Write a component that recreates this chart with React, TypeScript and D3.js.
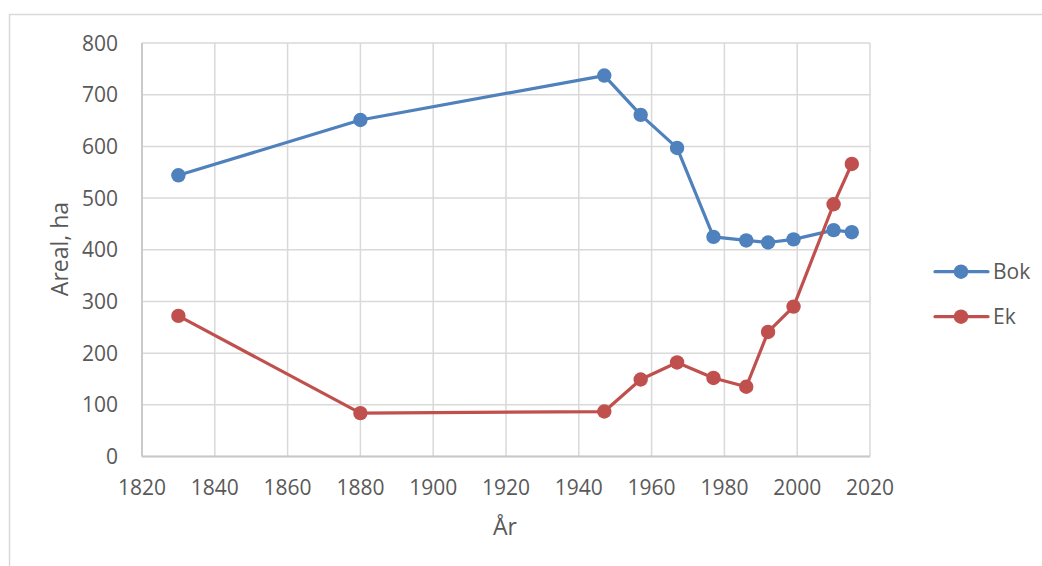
import React from "react";
import * as d3 from "d3";

const years = [1830, 1880, 1947, 1957, 1967, 1977, 1986, 1992, 1999, 2010, 2015];
const bokValues = [544, 651, 737, 661, 597, 425, 418, 414, 420, 438, 434];
const ekValues = [272, 84, 87, 149, 182, 152, 135, 241, 290, 488, 566];
const seriesNames = ["Bok", "Ek"];
const seriesColors = ["#4f81bd", "#c0504d"];
const xTicks = [1820, 1840, 1860, 1880, 1900, 1920, 1940, 1960, 1980, 2000, 2020];
const yTicks = [0, 100, 200, 300, 400, 500, 600, 700, 800];
const yTitle = "Areal, ha";
const xTitle = "År";

const W = 1042;
const H = 566;
const FONT = "'Open Sans', sans-serif";
const TEXT = "#595959";

export default function App() {
  const x = d3.scaleLinear().domain([1820, 2020]).range([142, 870]);
  const y = d3.scaleLinear().domain([0, 800]).range([456.5, 43]);
  const allSeries = [bokValues, ekValues];
  const line = d3
    .line<number>()
    .x((_, i) => x(years[i]))
    .y((d) => y(d));

  return (
    <svg
      width={W}
      height={H}
      style={{ position: "absolute", left: 0, top: 0, display: "block", background: "#fff" }}
    >
      <rect x={9.5} y={14.5} width={W + 20} height={H + 20} fill="#fff" stroke="#d9d9d9" strokeWidth={1.5} />
      {/* gridlines */}
      {yTicks.map((t) => (
        <line key={"gy" + t} x1={x(1820)} x2={x(2020)} y1={y(t)} y2={y(t)} stroke="#d9d9d9" strokeWidth={1.5} />
      ))}
      {xTicks.map((t) => (
        <line key={"gx" + t} x1={x(t)} x2={x(t)} y1={y(0)} y2={y(800)} stroke="#d9d9d9" strokeWidth={1.5} />
      ))}
      {/* axes */}
      <line x1={x(1820)} x2={x(2020)} y1={y(0)} y2={y(0)} stroke="#c8c8c8" strokeWidth={1.8} />
      <line x1={x(1820)} x2={x(1820)} y1={y(0)} y2={y(800)} stroke="#c8c8c8" strokeWidth={1.8} />
      {/* tick labels */}
      {yTicks.map((t) => (
        <text
          key={"ly" + t}
          x={118}
          y={y(t)}
          dy="0.36em"
          textAnchor="end"
          fontFamily={FONT}
          fontSize={21}
          fill={TEXT}
        >
          {t}
        </text>
      ))}
      {xTicks.map((t) => (
        <text
          key={"lx" + t}
          x={x(t)}
          y={495}
          textAnchor="middle"
          fontFamily={FONT}
          fontSize={21}
          fill={TEXT}
        >
          {t}
        </text>
      ))}
      {/* axis titles */}
      <text
        transform={`translate(68,249) rotate(-90)`}
        textAnchor="middle"
        fontFamily={FONT}
        fontSize={23}
        fill={TEXT}
      >
        {yTitle}
      </text>
      <text x={505} y={535} textAnchor="middle" fontFamily={FONT} fontSize={23} fill={TEXT}>
        {xTitle}
      </text>
      {/* series */}
      {allSeries.map((vals, si) => (
        <g key={"s" + si}>
          <path d={line(vals) || ""} fill="none" stroke={seriesColors[si]} strokeWidth={3.2} strokeLinejoin="round" />
          {vals.map((v, i) => (
            <circle key={i} cx={x(years[i])} cy={y(v)} r={7.2} fill={seriesColors[si]} />
          ))}
        </g>
      ))}
      {/* legend */}
      {seriesNames.map((n, i) => {
        const ly = 271.7 + i * 45;
        return (
          <g key={"lg" + n}>
            <line x1={935} x2={988} y1={ly} y2={ly} stroke={seriesColors[i]} strokeWidth={3.2} strokeLinecap="round" />
            <circle cx={961} cy={ly} r={7.2} fill={seriesColors[i]} />
            <text x={993} y={ly} dy="0.36em" fontFamily={FONT} fontSize={21} fill={TEXT}>
              {n}
            </text>
          </g>
        );
      })}
    </svg>
  );
}
